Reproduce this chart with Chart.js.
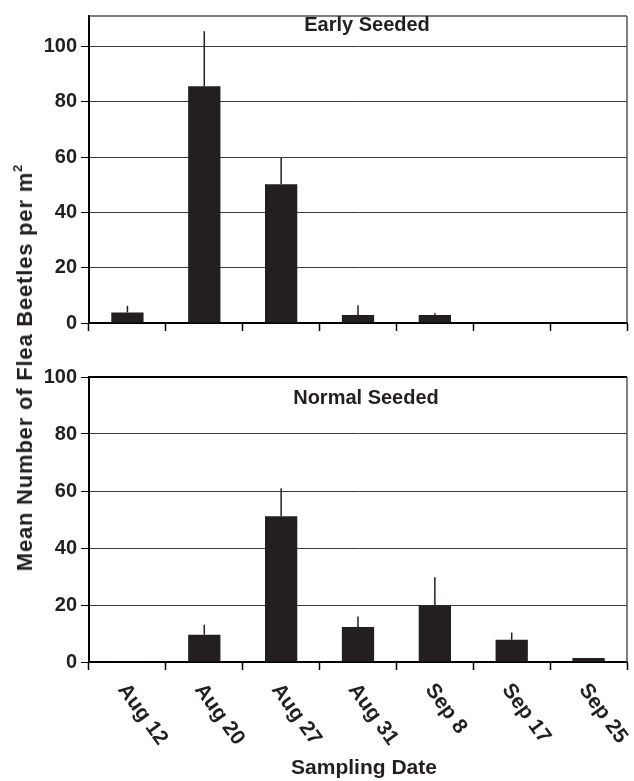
<!DOCTYPE html>
<html>
<head>
<meta charset="utf-8">
<script src="https://cdn.jsdelivr.net/npm/chart.js@4.4.1/dist/chart.umd.min.js"></script>
<style>
  body { margin: 0; background: #fff; }
  #wrap { position: relative; width: 634px; height: 781px; overflow: hidden; }
  #earlyChart { position: absolute; left: 0; top: 0; }
  #normalChart { position: absolute; left: 0; top: 340px; }
  #yTitle {
    position: absolute; left: 25px; top: 368px;
    transform: translate(-50%, -50%) rotate(-90deg);
    white-space: nowrap;
    font: bold 22px "Liberation Sans", Arial, sans-serif;
    letter-spacing: 0.8px;
    color: #231f20;
  }
  #yTitle sup { font-size: 13px; vertical-align: 10px; line-height: 0; letter-spacing: 0; }
</style>
</head>
<body>
<div id="wrap">
  <canvas id="earlyChart" width="634" height="340"></canvas>
  <canvas id="normalChart" width="634" height="441"></canvas>
  <div id="yTitle">Mean Number of Flea Beetles per m<sup>2</sup></div>
</div>
<script>
// sampling dates (categories)
const dates = ['Aug 12', 'Aug 20', 'Aug 27', 'Aug 31', 'Sep 8', 'Sep 17', 'Sep 25'];

// early seeded: means and upper error (SE)
const earlyMeans = [3.8, 85.6, 50.2, 2.9, 2.9, 0, 0];
const earlyErrors = [2.4, 19.9, 9.5, 3.5, 0.6, 0, 0];

// normal seeded: means and upper error (SE)
const normalMeans = [0.3, 9.6, 51.1, 12.3, 19.9, 7.8, 1.4];
const normalErrors = [0, 3.5, 9.9, 3.7, 9.8, 2.5, 0];

const yTicks = [0, 20, 40, 60, 80, 100];

const FONT = '"Liberation Sans", Arial, sans-serif';
const INK = '#231f20';

// draws the upper error line on every bar
const errorBars = {
    id: 'errorBars',
    afterDatasetsDraw(chart, args, opts) {
        const ctx = chart.ctx;
        const yScale = chart.scales.y;
        const values = chart.data.datasets[0].data;
        ctx.save();
        ctx.strokeStyle = INK;
        ctx.lineWidth = 1.5;
        chart.getDatasetMeta(0).data.forEach((bar, i) => {
            const se = opts.errors[i];
            if (!se) return;
            ctx.beginPath();
            ctx.moveTo(bar.x, yScale.getPixelForValue(values[i]));
            ctx.lineTo(bar.x, yScale.getPixelForValue(values[i] + se));
            ctx.stroke();
        });
        ctx.restore();
    }
};

// frame (top + right edge) and the panel caption
const panelFrame = {
    id: 'panelFrame',
    afterDraw(chart, args, opts) {
        const ctx = chart.ctx;
        const a = chart.chartArea;
        ctx.save();
        ctx.strokeStyle = opts.topColor;
        ctx.lineWidth = opts.topWidth;
        ctx.beginPath();
        ctx.moveTo(a.left, a.top);
        ctx.lineTo(a.right, a.top);
        ctx.stroke();
        ctx.strokeStyle = '#555';
        ctx.lineWidth = 1.5;
        ctx.beginPath();
        ctx.moveTo(a.right, a.top);
        ctx.lineTo(a.right, a.bottom);
        ctx.stroke();

        ctx.fillStyle = INK;
        ctx.font = 'bold 20px ' + FONT;
        ctx.textAlign = 'center';
        ctx.textBaseline = 'middle';
        ctx.fillText(opts.caption, opts.captionX, opts.captionY);
        ctx.restore();
    }
};

// slanted date labels under the lower panel + x axis title
const slantLabels = {
    id: 'slantLabels',
    afterDraw(chart) {
        const ctx = chart.ctx;
        const xScale = chart.scales.x;
        ctx.save();
        ctx.fillStyle = INK;
        ctx.font = 'bold 21px ' + FONT;
        ctx.textAlign = 'left';
        ctx.textBaseline = 'top';
        dates.forEach((d, i) => {
            const x = xScale.getPixelForTick(i);
            ctx.save();
            ctx.translate(x + 3, xScale.top + 18);
            ctx.rotate(54 * Math.PI / 180);
            ctx.fillText(d, 0, 0);
            ctx.restore();
        });
        ctx.textAlign = 'center';
        ctx.textBaseline = 'middle';
        ctx.fillText('Sampling Date', 364, 428);
        ctx.restore();
    }
};

function makeOptions(yMax, xHeight, padTop) {
    return {
        responsive: false,
        animation: false,
        layout: { padding: { top: padTop, right: 7, left: 0, bottom: 0 } },
        plugins: { legend: { display: false }, tooltip: { enabled: false } },
        scales: {
            x: {
                grid: { offset: true, drawOnChartArea: false, tickLength: 8, tickColor: '#000', tickWidth: 1.5 },
                border: { display: true, color: '#000', width: 2 },
                ticks: { display: false },
                afterFit(scale) { scale.height = xHeight; }
            },
            y: {
                min: 0,
                max: yMax,
                afterBuildTicks(scale) { scale.ticks = yTicks.map(v => ({ value: v })); },
                grid: { color: '#3a3a3a', lineWidth: 1, tickLength: 8, tickColor: '#000' },
                border: { display: true, color: '#000', width: 2 },
                ticks: {
                    color: INK,
                    padding: 4,
                    font: { family: FONT, size: 20, weight: 'bold' }
                },
                afterFit(scale) { scale.width = 89; }
            }
        }
    };
}

function barDataset(values) {
    return {
        data: values,
        backgroundColor: INK,
        borderWidth: 0,
        categoryPercentage: 1,
        barPercentage: 0.42
    };
}

document.addEventListener('DOMContentLoaded', function () {
    const earlyOpts = makeOptions(111, 17, 10);
    earlyOpts.plugins.errorBars = { errors: earlyErrors };
    earlyOpts.plugins.panelFrame = { caption: 'Early Seeded', captionX: 367, captionY: 25, topColor: '#555', topWidth: 1.5 };

    new Chart(document.getElementById('earlyChart').getContext('2d'), {
        type: 'bar',
        data: { labels: dates, datasets: [barDataset(earlyMeans)] },
        options: earlyOpts,
        plugins: [errorBars, panelFrame]
    });

    const normalOpts = makeOptions(100, 119, 37);
    normalOpts.plugins.errorBars = { errors: normalErrors };
    normalOpts.plugins.panelFrame = { caption: 'Normal Seeded', captionX: 366, captionY: 58, topColor: '#000', topWidth: 2 };

    new Chart(document.getElementById('normalChart').getContext('2d'), {
        type: 'bar',
        data: { labels: dates, datasets: [barDataset(normalMeans)] },
        options: normalOpts,
        plugins: [errorBars, panelFrame, slantLabels]
    });
});
</script>
</body>
</html>
